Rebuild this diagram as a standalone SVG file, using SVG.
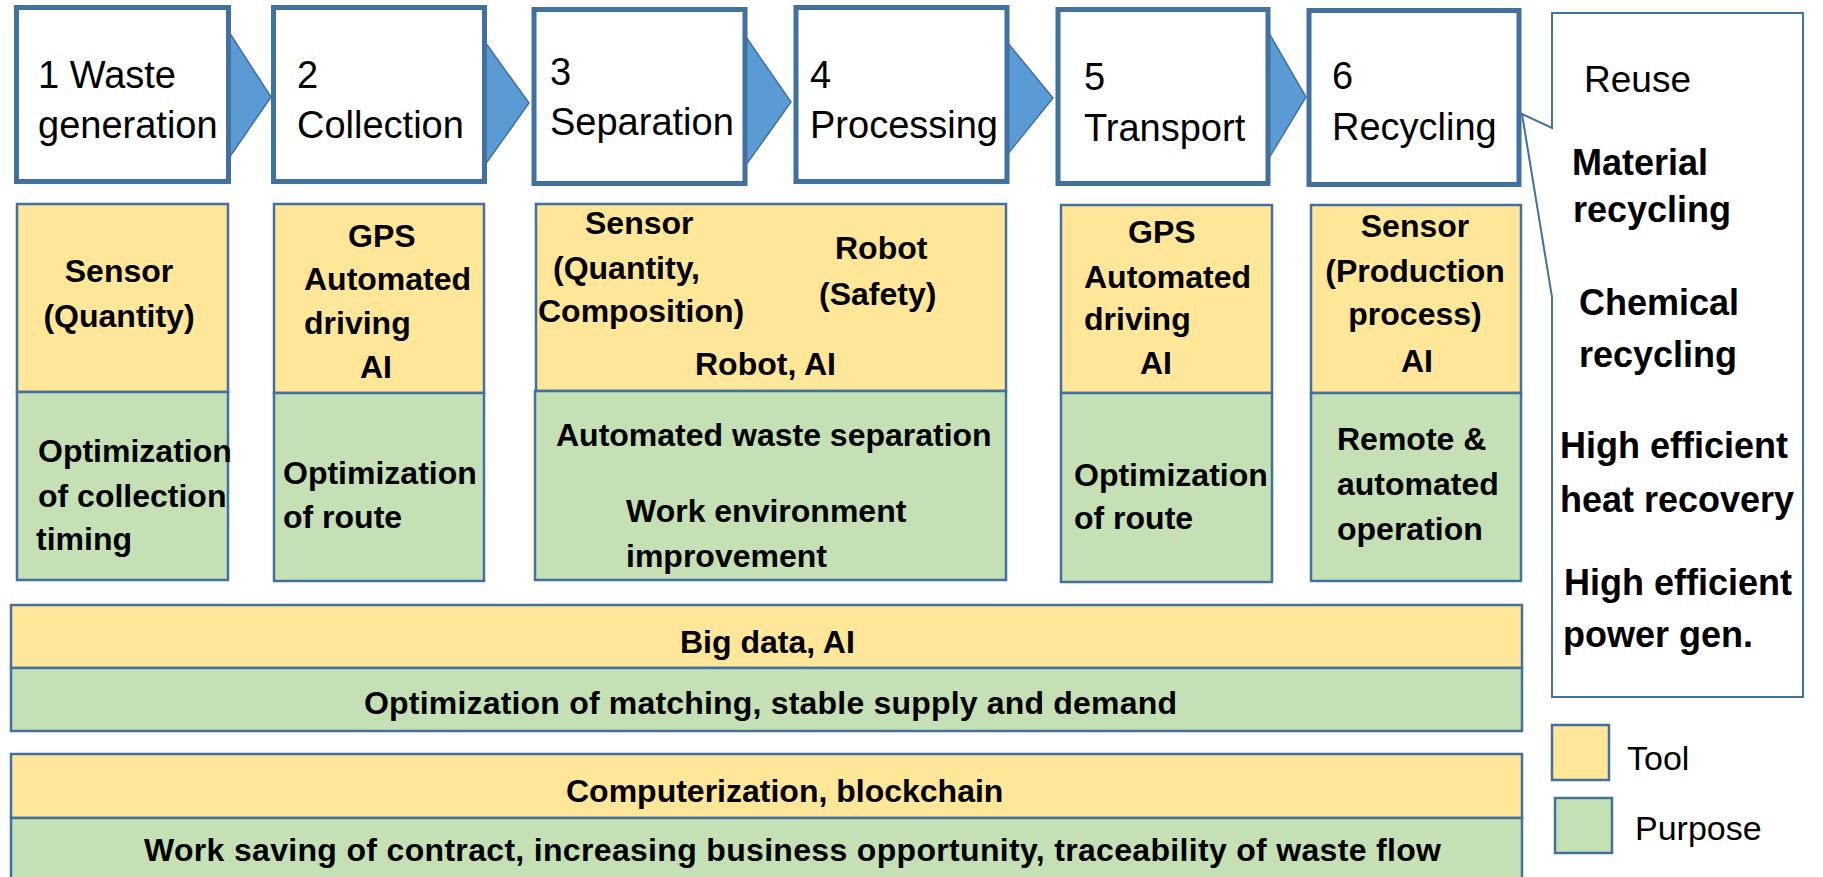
<svg xmlns="http://www.w3.org/2000/svg" width="1823" height="877" viewBox="0 0 1823 877">
  <style>
    .step { fill: #ffffff; stroke: #41719C; stroke-width: 5; }
    .arrow { fill: #5B9BD5; stroke: #41719C; stroke-width: 1.5; stroke-linejoin: miter; }
    .tool { fill: #FFE699; stroke: #41719C; stroke-width: 2.5; }
    .purpose { fill: #C5E0B4; stroke: #41719C; stroke-width: 2.5; }
    .callout { fill: #ffffff; stroke: #41719C; stroke-width: 2; }
    .lbl { font-family: "Liberation Sans", Arial, sans-serif; font-size: 38px; fill: #000; }
    .b { font-family: "Liberation Sans", Arial, sans-serif; font-size: 32px; font-weight: bold; fill: #000; }
    .cb { font-family: "Liberation Sans", Arial, sans-serif; font-size: 36px; font-weight: bold; fill: #000; }
    .leg { font-family: "Liberation Sans", Arial, sans-serif; font-size: 34px; fill: #000; }
    .c { text-anchor: middle; }
  </style>

  <!-- process chevrons between the steps -->
  <g id="connectors">
    <polygon class="arrow" points="229,32 271,97 229,158"/>
    <polygon class="arrow" points="485,42 529,103 485,165"/>
    <polygon class="arrow" points="746,37 791,102 746,165"/>
    <polygon class="arrow" points="1007,42 1053,98 1007,155"/>
    <polygon class="arrow" points="1269,33 1306,97 1269,158"/>
  </g>

  <!-- process steps -->
  <g id="step1">
    <rect class="step" x="16.5" y="7.5" width="212" height="174"/>
    <text class="lbl" x="38" y="88">1 Waste</text>
    <text class="lbl" x="38" y="138">generation</text>
  </g>
  <g id="step2">
    <rect class="step" x="273.5" y="7.5" width="211" height="174"/>
    <text class="lbl" x="297" y="88">2</text>
    <text class="lbl" x="297" y="138">Collection</text>
  </g>
  <g id="step3">
    <rect class="step" x="534" y="9.5" width="211" height="174"/>
    <text class="lbl" x="550" y="85">3</text>
    <text class="lbl" x="550" y="135">Separation</text>
  </g>
  <g id="step4">
    <rect class="step" x="796" y="7.5" width="211" height="174"/>
    <text class="lbl" x="810" y="88">4</text>
    <text class="lbl" x="810" y="138">Processing</text>
  </g>
  <g id="step5">
    <rect class="step" x="1058" y="9.5" width="210" height="174"/>
    <text class="lbl" x="1084" y="90">5</text>
    <text class="lbl" x="1084" y="141">Transport</text>
  </g>
  <g id="step6">
    <rect class="step" x="1309" y="10.5" width="210" height="174"/>
    <text class="lbl" x="1332" y="89">6</text>
    <text class="lbl" x="1332" y="140">Recycling</text>
  </g>

  <!-- recycling outcomes callout -->
  <g id="outcomes">
    <path class="callout" d="M1552,13 H1803 V697 H1552 V297 L1522,114 L1552,128 Z"/>
    <text class="lbl" x="1584" y="92" style="font-size:37px">Reuse</text>
    <text class="cb" x="1572" y="175">Material</text>
    <text class="cb" x="1573" y="222">recycling</text>
    <text class="cb" x="1579" y="315">Chemical</text>
    <text class="cb" x="1579" y="367">recycling</text>
    <text class="cb" x="1560" y="458">High efficient</text>
    <text class="cb" x="1560" y="512">heat recovery</text>
    <text class="cb" x="1564" y="595">High efficient</text>
    <text class="cb" x="1563" y="647">power gen.</text>
  </g>

  <!-- tools and purposes per step -->
  <g id="tools1">
    <rect class="tool" x="17" y="204" width="211" height="188"/>
    <text class="b c" x="119" y="282">Sensor</text>
    <text class="b c" x="119" y="327">(Quantity)</text>
  </g>
  <g id="purpose1">
    <rect class="purpose" x="17" y="392" width="211" height="188"/>
    <text class="b" x="38" y="462">Optimization</text>
    <text class="b" x="38" y="507">of collection</text>
    <text class="b" x="36" y="550">timing</text>
  </g>

  <g id="tools2">
    <rect class="tool" x="274" y="204" width="210" height="189"/>
    <text class="b" x="348" y="247">GPS</text>
    <text class="b" x="304" y="290">Automated</text>
    <text class="b" x="304" y="334">driving</text>
    <text class="b" x="360" y="378">AI</text>
  </g>
  <g id="purpose2">
    <rect class="purpose" x="274" y="393" width="210" height="188"/>
    <text class="b" x="283" y="484">Optimization</text>
    <text class="b" x="283" y="528">of route</text>
  </g>

  <g id="tools3">
    <rect class="tool" x="536" y="204" width="470" height="187"/>
    <text class="b" x="585" y="234">Sensor</text>
    <text class="b" x="553" y="279">(Quantity,</text>
    <text class="b" x="538" y="322">Composition)</text>
    <text class="b" x="835" y="259">Robot</text>
    <text class="b" x="819" y="305">(Safety)</text>
    <text class="b" x="695" y="375">Robot, AI</text>
  </g>
  <g id="purpose3">
    <rect class="purpose" x="535" y="391" width="471" height="189"/>
    <text class="b" x="556" y="446">Automated waste separation</text>
    <text class="b" x="626" y="522">Work environment</text>
    <text class="b" x="626" y="567">improvement</text>
  </g>

  <g id="tools5">
    <rect class="tool" x="1061" y="205" width="211" height="188"/>
    <text class="b" x="1128" y="243">GPS</text>
    <text class="b" x="1084" y="288">Automated</text>
    <text class="b" x="1084" y="330">driving</text>
    <text class="b" x="1140" y="374">AI</text>
  </g>
  <g id="purpose5">
    <rect class="purpose" x="1061" y="393" width="211" height="189"/>
    <text class="b" x="1074" y="486">Optimization</text>
    <text class="b" x="1074" y="529">of route</text>
  </g>

  <g id="tools6">
    <rect class="tool" x="1311" y="205" width="210" height="188"/>
    <text class="b c" x="1415" y="237">Sensor</text>
    <text class="b c" x="1415" y="282">(Production</text>
    <text class="b c" x="1415" y="325">process)</text>
    <text class="b c" x="1417" y="372">AI</text>
  </g>
  <g id="purpose6">
    <rect class="purpose" x="1311" y="393" width="210" height="188"/>
    <text class="b" x="1337" y="450">Remote &amp;</text>
    <text class="b" x="1337" y="495">automated</text>
    <text class="b" x="1337" y="540">operation</text>
  </g>

  <!-- cross-cutting layers -->
  <g id="bigdata">
    <rect class="tool" x="11" y="605" width="1511" height="63"/>
    <rect class="purpose" x="11" y="668" width="1511" height="63"/>
    <text class="b" x="680" y="653">Big data, AI</text>
    <text class="b" x="364" y="714" textLength="813">Optimization of matching, stable supply and demand</text>
  </g>
  <g id="blockchain">
    <rect class="tool" x="11" y="754" width="1511" height="64"/>
    <rect class="purpose" x="11" y="818" width="1511" height="70"/>
    <text class="b" x="566" y="802">Computerization, blockchain</text>
    <text class="b" x="144" y="861" textLength="1297">Work saving of contract, increasing business opportunity, traceability of waste flow</text>
  </g>

  <!-- legend -->
  <g id="legend">
    <rect class="tool" x="1552" y="725" width="57" height="55"/>
    <text class="leg" x="1627" y="770">Tool</text>
    <rect class="purpose" x="1555" y="798" width="57" height="55"/>
    <text class="leg" x="1635" y="840">Purpose</text>
  </g>
</svg>
